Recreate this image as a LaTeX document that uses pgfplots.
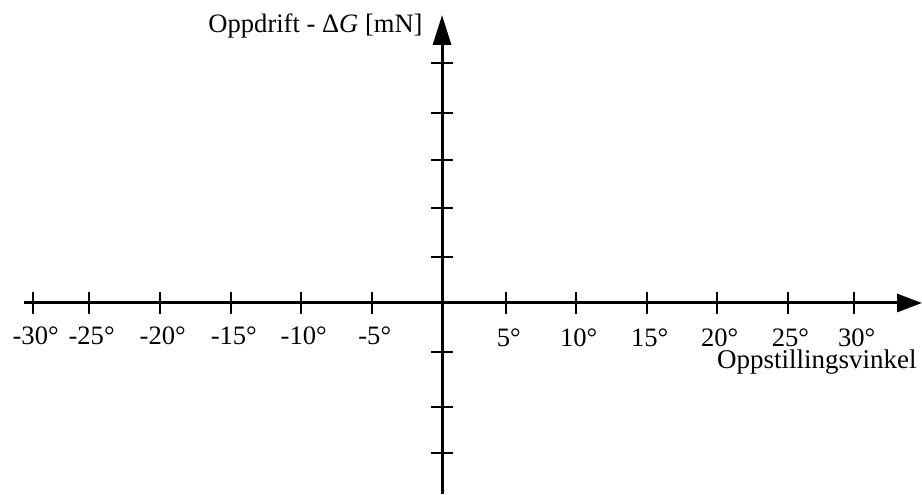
\documentclass[border=0pt]{standalone}
\usepackage{fontspec}
\setmainfont{Liberation Serif}
\usepackage{pgfplots}
\pgfplotsset{compat=1.18}
\usetikzlibrary{arrows.meta}

\begin{document}
\begin{tikzpicture}
\begin{axis}[
  x=6.345bp, y=21.6bp,
  xmin=-29.65, xmax=34.04,
  ymin=-3.985, ymax=6.0,
  axis lines=middle,
  axis line style={line width=1.35bp},
  x axis line style={-{Triangle[length=11.25bp,width=8.1bp]}},
  y axis line style={-{Triangle[length=13.5bp,width=8.1bp]}},
  clip=false,
  tick align=center,
  major tick length=9.5bp,
  tick style={line width=0.9bp, black},
  % negative angles
  xtick={-29.01,-25.04,-20,-14.96,-10,-4.96},
  xticklabels={-30°,-25°,-20°,-15°,-10°,-5°},
  xticklabel style={anchor=base, yshift=-14bp, xshift=1.2bp, inner sep=0pt, font=\fontsize{12}{14}\selectfont},
  % positive angles, set a little lower
  extra x ticks={4.54,9.5,14.54,19.5,24.52,29.22},
  extra x tick labels={5°,10°,15°,20°,25°,30°},
  extra x tick style={tick style={line width=0.9bp, black}, xticklabel style={yshift=-0.8bp}},
  ytick={-3.12,-2.17,-1.02,0.96,1.98,2.98,3.96,5},
  yticklabels={},
  xlabel={Oppstillingsvinkel},
  ylabel={Oppdrift - Δ\textit{G} [mN]},
  every axis x label/.style={at={(axis cs:33.69,-1.36)}, anchor=base east, inner sep=0pt, font=\fontsize{12.2}{14}\selectfont},
  every axis y label/.style={at={(axis cs:-1.35,5.625)}, anchor=base east, inner sep=0pt, font=\fontsize{12}{14}\selectfont},
]
  % page frame corners, in the axis' own units
  \coordinate (pageSW) at (axis cs:-31.35,-4.0);
  \coordinate (pageNE) at (axis cs:34.04,6.3125);
\end{axis}
\pgfresetboundingbox
\path (pageSW) rectangle (pageNE);
\end{tikzpicture}
\end{document}
